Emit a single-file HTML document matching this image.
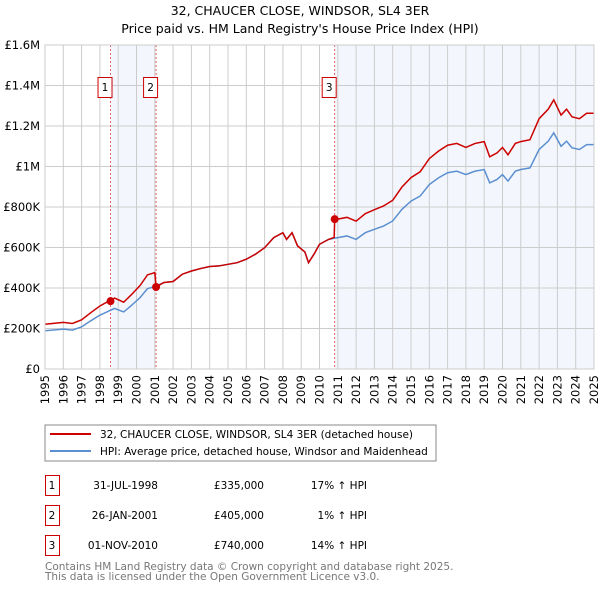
<!DOCTYPE html>
<html><head><meta charset="utf-8"><style>
body{margin:0;background:#fff;font-family:"Liberation Sans","DejaVu Sans",sans-serif}
svg text{font-family:"DejaVu Sans","Liberation Sans",sans-serif}
</style></head><body>
<svg id="c" width="600" height="590" xmlns="http://www.w3.org/2000/svg">
<text x="300" y="15" text-anchor="middle" font-size="12.5">32, CHAUCER CLOSE, WINDSOR, SL4 3ER</text>
<text x="300" y="33" text-anchor="middle" font-size="12.5">Price paid vs. HM Land Registry's House Price Index (HPI)</text>
<g id="plot"></g>
<rect x="45" y="425" width="391" height="36" fill="#fff" stroke="#888"/>
<line x1="50" y1="434" x2="91" y2="434" stroke="#cc0000" stroke-width="2"/>
<text x="100" y="438" font-size="10.5">32, CHAUCER CLOSE, WINDSOR, SL4 3ER (detached house)</text>
<line x1="50" y1="451" x2="91" y2="451" stroke="#5b8fd0" stroke-width="2"/>
<text x="100" y="455" font-size="10.5">HPI: Average price, detached house, Windsor and Maidenhead</text>
<g font-size="10.5">
<rect x="45.5" y="475.5" width="14" height="20" fill="none" stroke="#cc0000"/><text x="52" y="489" text-anchor="middle">1</text>
<text x="158" y="489" text-anchor="end">31-JUL-1998</text><text x="264" y="489" text-anchor="end">£335,000</text><text x="367" y="489" text-anchor="end">17% ↑ HPI</text>
<rect x="45.5" y="505.5" width="14" height="20" fill="none" stroke="#cc0000"/><text x="52" y="519" text-anchor="middle">2</text>
<text x="158" y="519" text-anchor="end">26-JAN-2001</text><text x="264" y="519" text-anchor="end">£405,000</text><text x="367" y="519" text-anchor="end">1% ↑ HPI</text>
<rect x="45.5" y="535.5" width="14" height="20" fill="none" stroke="#cc0000"/><text x="52" y="549" text-anchor="middle">3</text>
<text x="158" y="549" text-anchor="end">01-NOV-2010</text><text x="264" y="549" text-anchor="end">£740,000</text><text x="367" y="549" text-anchor="end">14% ↑ HPI</text>
</g>
<text x="45" y="570" font-size="10.5" fill="#777">Contains HM Land Registry data © Crown copyright and database right 2025.</text>
<text x="45" y="580" font-size="10.5" fill="#777">This data is licensed under the Open Government Licence v3.0.</text>
</svg>
<script>
const hpiDates=[1995,1996,1996.5,1997,1997.5,1998,1998.5,1998.8,1999.3,1999.7,2000.2,2000.6,2001,2001.5,2002,2002.5,2003,2003.5,2004,2004.5,2005,2005.5,2006,2006.5,2007,2007.5,2008,2008.2,2008.5,2008.8,2009.2,2009.4,2009.7,2010,2010.5,2011,2011.5,2012,2012.5,2013,2013.5,2014,2014.5,2015,2015.5,2016,2016.5,2017,2017.5,2018,2018.5,2019,2019.3,2019.7,2020,2020.3,2020.7,2021,2021.5,2022,2022.5,2022.8,2023.2,2023.5,2023.8,2024.2,2024.6,2025];
const hpiValues=[189,197,192,208,238,266,287,299,282,312,353,397,407,427,432,468,484,496,506,509,517,525,542,567,599,649,673,640,673,608,578,525,567,616,640,649,657,640,673,690,706,731,788,829,854,911,944,969,977,960,977,985,919,936,960,928,977,985,993,1084,1125,1166,1100,1125,1092,1084,1108,1108];
const redDates=[1995,1996,1996.5,1997,1997.5,1998,1998.5,1998.8,1999.3,1999.7,2000.2,2000.6,2001,2001.07,2001.5,2002,2002.5,2003,2003.5,2004,2004.5,2005,2005.5,2006,2006.5,2007,2007.5,2008,2008.2,2008.5,2008.8,2009.2,2009.4,2009.7,2010,2010.5,2010.8,2010.83,2011,2011.5,2012,2012.5,2013,2013.5,2014,2014.5,2015,2015.5,2016,2016.5,2017,2017.5,2018,2018.5,2019,2019.3,2019.7,2020,2020.3,2020.7,2021,2021.5,2022,2022.5,2022.8,2023.2,2023.5,2023.8,2024.2,2024.6,2025];
const redValues=[221,230,225,243,278,311,336,350,330,365,413,465,476,405,427,432,468,484,496,506,509,517,525,542,567,599,649,673,640,673,608,578,525,567,616,640,650,740,740,749,730,767,787,805,833,898,945,974,1039,1076,1105,1114,1094,1114,1123,1048,1067,1094,1058,1114,1123,1132,1236,1283,1329,1254,1283,1245,1236,1263,1263];
const saleDates=[1998.58,2001.07,2010.83];
const saleValues=[335,405,740];
const saleLabels=["1","2","3"];
const yTicks=[0,200,400,600,800,1000,1200,1400,1600];
const yTickLabels=["£0","£200K","£400K","£600K","£800K","£1M","£1.2M","£1.4M","£1.6M"];
const years=[];for(let y=1995;y<=2025;y++)years.push(y);

const X0=45,X1=594,Y0=369,Y1=45;
const xs=d=>X0+(d-1995)/30*(X1-X0);
const ys=v=>Y0-v/1600*(Y0-Y1);
const NS="http://www.w3.org/2000/svg";
const g=document.getElementById('plot');
function mk(t,a){const e=document.createElementNS(NS,t);for(const k in a)e.setAttribute(k,a[k]);g.appendChild(e);return e;}
let e;
e=mk('rect',{x:X0,y:Y1,width:X1-X0,height:Y0-Y1,fill:'#fff'});


for(let i=0;i<saleDates.length;i++){
  const end=i+1<saleDates.length?saleDates[i+1]:2025;
  if(i===1)continue;
  e=mk('rect',{x:xs(saleDates[i]),y:Y1,width:xs(end)-xs(saleDates[i]),height:Y0-Y1,fill:'#eef3fc',opacity:0.7});
  
  
}
years.forEach(y=>{
  e=mk('line',{x1:xs(y),x2:xs(y),y1:Y1,y2:Y0,stroke:'#ccc','stroke-width':1});
  
  
  e=mk('text',{x:0,y:0,'font-size':11.5,'text-anchor':'end',transform:`translate(${xs(y)+4},${Y0+6}) rotate(-90)`});
  e.textContent=y;
  
  
});
yTicks.forEach((v,i)=>{
  e=mk('line',{x1:X0,x2:X1,y1:ys(v),y2:ys(v),stroke:'#ccc','stroke-width':1});
  
  
  e=mk('text',{x:40,y:ys(v)+4,'font-size':11.5,'text-anchor':'end'});
  e.textContent=yTickLabels[i];
  
  
});
saleDates.forEach((d,i)=>{
  e=mk('line',{x1:xs(d),x2:xs(d),y1:Y1,y2:Y0,stroke:'#e04040','stroke-width':0.8,'stroke-dasharray':'2,2'});
  
  
});
e=mk('polyline',{points:hpiDates.map((d,i)=>xs(d)+','+ys(hpiValues[i])).join(' '),fill:'none',stroke:'#5b8fd0','stroke-width':1.5});


e=mk('polyline',{points:redDates.map((d,i)=>xs(d)+','+ys(redValues[i])).join(' '),fill:'none',stroke:'#cc0000','stroke-width':1.5});


saleDates.forEach((d,i)=>{
  e=mk('circle',{cx:xs(d),cy:ys(saleValues[i]),r:4,fill:'#cc0000'});
  
  
  const bx=xs(d)-5-7;
  e=mk('rect',{x:bx-0.5,y:77.5,width:14,height:20,fill:'#fff',stroke:'#cc0000'});
  
  
  e=mk('text',{x:bx+6.5,y:91,'font-size':10.5,'text-anchor':'middle'});
  e.textContent=saleLabels[i];
  
  
});
e=mk('rect',{x:X0,y:Y1,width:X1-X0,height:Y0-Y1,fill:'none',stroke:'#ccc'});


</script>
</body></html>
